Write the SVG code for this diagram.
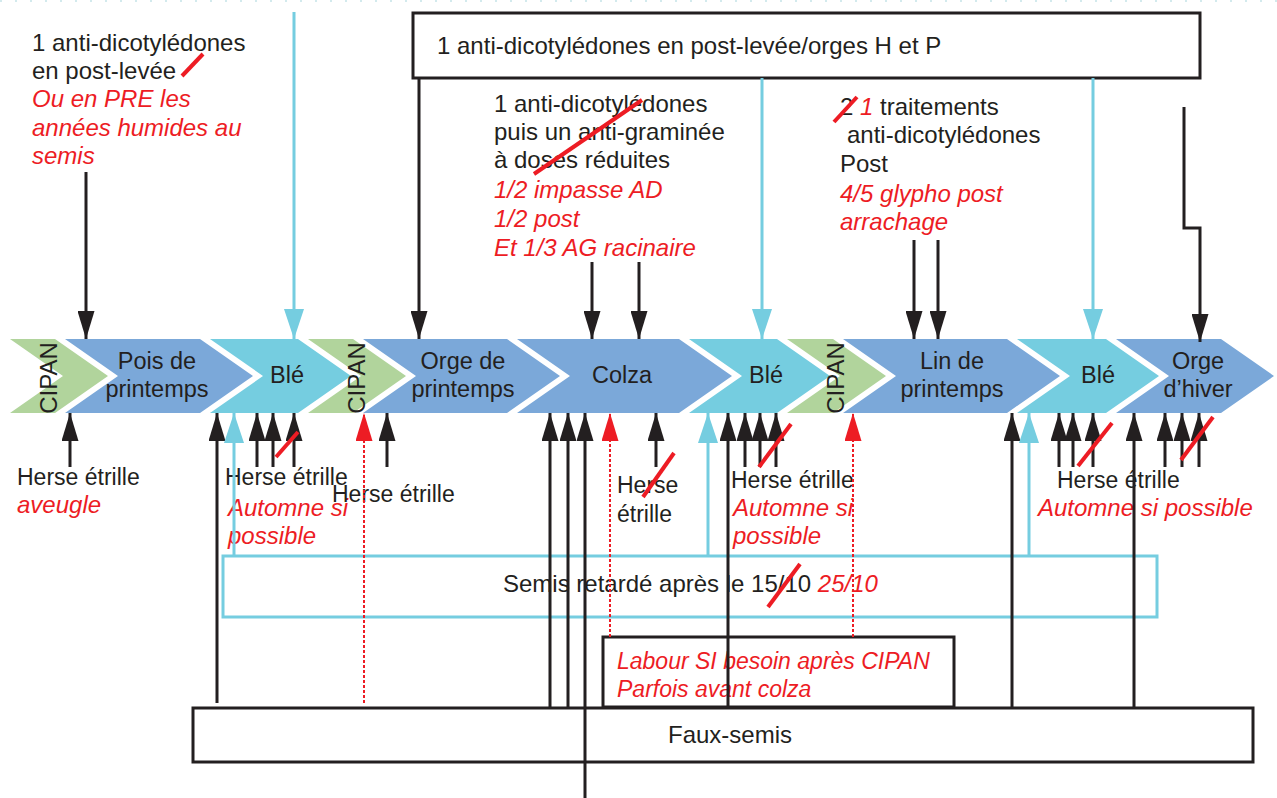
<svg xmlns="http://www.w3.org/2000/svg" width="1277" height="798" viewBox="0 0 1277 798">
<defs>
<style>
text{font-family:"Liberation Sans",Arial,sans-serif;font-size:24px;fill:#231F20}
.r{fill:#ED1C24;font-style:italic}
.h{font-size:23px}
.lb{font-size:23px}
.lbl{font-size:23.5px;text-anchor:middle}
.cip{font-size:24px;text-anchor:middle}
.blue{fill:#7BA8D9}
.cyan{fill:#75CDE0}
.green{fill:#B1D49C}
.box{fill:none;stroke:#231F20;stroke-width:3}
.cbox{fill:none;stroke:#75CDE0;stroke-width:3}
.k{stroke:#231F20;stroke-width:3;fill:none;marker-end:url(#ak)}
.c{stroke:#75CDE0;stroke-width:3;fill:none;marker-end:url(#ac)}
.d{stroke:#ED1C24;stroke-width:2;stroke-dasharray:3 2;fill:none;marker-end:url(#ar)}
.x{stroke:#ED1C24;stroke-width:4;fill:none}
</style>
<marker id="ak" viewBox="0 0 28 17" refX="28" refY="8.5" markerWidth="28" markerHeight="17" orient="auto" markerUnits="userSpaceOnUse"><path d="M0,0L28,8.5L0,17z" fill="#231F20"/></marker>
<marker id="ac" viewBox="0 0 30 20" refX="30" refY="10" markerWidth="30" markerHeight="20" orient="auto" markerUnits="userSpaceOnUse"><path d="M0,0L30,10L0,20z" fill="#75CDE0"/></marker>
<marker id="ar" viewBox="0 0 28 17" refX="28" refY="8.5" markerWidth="28" markerHeight="17" orient="auto" markerUnits="userSpaceOnUse"><path d="M0,0L28,8.5L0,17z" fill="#ED1C24"/></marker>
</defs>
<rect width="1277" height="798" fill="#fff"/>
<line x1="0" y1="1" x2="1277" y2="1" stroke="#c5e3e8" stroke-width="1.5" stroke-dasharray="2 13"/>

<g id="chevrons">
<g id="cipan1"><polygon class="green" points="10,339 55,339 108,376 55,413 10,413 63,376"/><text class="cip" transform="translate(57,378) rotate(-90)">CIPAN</text></g>
<g id="pois"><polygon class="blue" points="65,339 200,339 253,376 200,413 65,413 118,376"/><text class="lbl" x="157" y="369">Pois de</text><text class="lbl" x="157" y="397">printemps</text></g>
<g id="ble1"><polygon class="cyan" points="210,339 298,339 351,376 298,413 210,413 263,376"/><text class="lbl" x="287" y="383">Blé</text></g>
<g id="cipan2"><polygon class="green" points="308,339 353,339 406,376 353,413 308,413 361,376"/><text class="cip" transform="translate(365,378) rotate(-90)">CIPAN</text></g>
<g id="orgep"><polygon class="blue" points="363,339 507,339 560,376 507,413 363,413 416,376"/><text class="lbl" x="463" y="369">Orge de</text><text class="lbl" x="463" y="397">printemps</text></g>
<g id="colza"><polygon class="blue" points="517,339 679,339 732,376 679,413 517,413 570,376"/><text class="lbl" x="622" y="383">Colza</text></g>
<g id="ble2"><polygon class="cyan" points="689,339 777,339 830,376 777,413 689,413 742,376"/><text class="lbl" x="766" y="383">Blé</text></g>
<g id="cipan3"><polygon class="green" points="787,339 833,339 886,376 833,413 787,413 840,376"/><text class="cip" transform="translate(844,378) rotate(-90)">CIPAN</text></g>
<g id="lin"><polygon class="blue" points="843,339 1007,339 1060,376 1007,413 843,413 896,376"/><text class="lbl" x="952" y="369">Lin de</text><text class="lbl" x="952" y="397">printemps</text></g>
<g id="ble3"><polygon class="cyan" points="1017,339 1106,339 1159,376 1106,413 1017,413 1070,376"/><text class="lbl" x="1098" y="383">Blé</text></g>
<g id="orgeh"><polygon class="blue" points="1116,339 1221,339 1274,376 1221,413 1116,413 1169,376"/><text class="lbl" x="1198" y="369">Orge</text><text class="lbl" x="1198" y="397">d’hiver</text></g>
</g>

<g id="note-pois">
<text x="32" y="51">1 anti-dicotylédones</text>
<text x="32" y="79">en post-levée</text>
<line class="x" x1="182" y1="76" x2="203" y2="54"/>
<text class="r" x="32" y="107">Ou en PRE les</text>
<text class="r" x="32" y="136">années humides au</text>
<text class="r" x="32" y="164">semis</text>
</g>

<g id="box-orges">
<rect class="box" x="413" y="13" width="787" height="65"/>
<text x="437" y="54">1 anti-dicotylédones en post-levée/orges H et P</text>
</g>

<g id="note-colza">
<text x="494" y="112">1 anti-dicotylédones</text>
<text x="494" y="140">puis un anti-graminée</text>
<text x="494" y="168">à doses réduites</text>
<line class="x" x1="534" y1="174" x2="642" y2="100"/>
<text class="r" x="494" y="198">1/2 impasse AD</text>
<text class="r" x="494" y="227">1/2 post</text>
<text class="r" x="494" y="256">Et 1/3 AG racinaire</text>
</g>

<g id="note-lin">
<text x="840" y="115">2 <tspan class="r">1</tspan> traitements</text>
<line class="x" x1="834" y1="122" x2="857" y2="97"/>
<text x="847" y="143">anti-dicotylédones</text>
<text x="840" y="172">Post</text>
<text class="r" x="840" y="202">4/5 glypho post</text>
<text class="r" x="840" y="230">arrachage</text>
</g>

<g id="labels-bottom">
<text class="h" x="17" y="485">Herse étrille</text>
<text class="r" x="17" y="513">aveugle</text>
<text class="h" x="225" y="485">Herse étrille</text>
<text class="r" x="228" y="516">Automne si</text>
<text class="r" x="228" y="544">possible</text>
<text class="h" x="332" y="502">Herse étrille</text>
<text class="h" x="617" y="493">Herse</text>
<text class="h" x="617" y="522">étrille</text>
<text class="h" x="731" y="488">Herse étrille</text>
<text class="r" x="733" y="516">Automne si</text>
<text class="r" x="733" y="544">possible</text>
<text class="h" x="1057" y="488">Herse étrille</text>
<text class="r" x="1038" y="516">Automne si possible</text>
</g>

<g id="box-semis">
<rect class="cbox" x="223" y="556" width="934" height="61"/>
<text x="503" y="592">Semis retardé après le 15/10 <tspan class="r">25/10</tspan></text>
<line class="x" x1="768" y1="607" x2="800" y2="564"/>
</g>

<g id="box-labour">
<rect class="box" x="603" y="637" width="351" height="70"/>
<text class="r lb" x="617" y="669">Labour SI besoin après CIPAN</text>
<text class="r lb" x="617" y="697">Parfois avant colza</text>
</g>

<g id="box-faux">
<rect class="box" x="193" y="708" width="1060" height="54"/>
<text x="730" y="743" text-anchor="middle">Faux-semis</text>
</g>

<g id="connectors">
<line class="k" x1="86" y1="172" x2="86" y2="339"/>
<line class="c" x1="294" y1="12" x2="294" y2="339"/>
<line class="k" x1="419" y1="78" x2="419" y2="339"/>
<line class="k" x1="592" y1="262" x2="592" y2="339"/>
<line class="k" x1="639" y1="262" x2="639" y2="339"/>
<line class="c" x1="762" y1="78" x2="762" y2="339"/>
<line class="k" x1="914" y1="240" x2="914" y2="339"/>
<line class="k" x1="938" y1="240" x2="938" y2="339"/>
<line class="c" x1="1093" y1="78" x2="1093" y2="339"/>
<polyline class="k" points="1184,107 1184,228 1200,228 1200,342"/>

<line class="k" x1="70" y1="467" x2="70" y2="413"/>
<line class="k" x1="217" y1="703" x2="217" y2="413"/>
<line class="c" x1="234" y1="556" x2="234" y2="413"/>
<line class="k" x1="257" y1="467" x2="257" y2="413"/>
<line class="k" x1="273" y1="467" x2="273" y2="413"/>
<line class="k" x1="294" y1="467" x2="294" y2="413"/>
<line class="d" x1="364" y1="703" x2="364" y2="413"/>
<line class="k" x1="387" y1="467" x2="387" y2="413"/>
<line class="k" x1="550" y1="708" x2="550" y2="413"/>
<line class="k" x1="568" y1="708" x2="568" y2="413"/>
<line class="k" x1="585" y1="798" x2="585" y2="413"/>
<line class="d" x1="610" y1="637" x2="610" y2="413"/>
<line class="k" x1="656" y1="467" x2="656" y2="413"/>
<line class="c" x1="708" y1="556" x2="708" y2="413"/>
<line class="k" x1="728" y1="708" x2="728" y2="413"/>
<line class="k" x1="745" y1="467" x2="745" y2="413"/>
<line class="k" x1="760" y1="467" x2="760" y2="413"/>
<line class="k" x1="776" y1="467" x2="776" y2="413"/>
<line class="d" x1="853" y1="637" x2="853" y2="413"/>
<line class="k" x1="1012" y1="708" x2="1012" y2="413"/>
<line class="c" x1="1029" y1="556" x2="1029" y2="413"/>
<line class="k" x1="1059" y1="467" x2="1059" y2="413"/>
<line class="k" x1="1073" y1="467" x2="1073" y2="413"/>
<line class="k" x1="1093" y1="467" x2="1093" y2="413"/>
<line class="k" x1="1134" y1="708" x2="1134" y2="413"/>
<line class="k" x1="1165" y1="467" x2="1165" y2="413"/>
<line class="k" x1="1182" y1="467" x2="1182" y2="413"/>
<line class="k" x1="1199" y1="467" x2="1199" y2="413"/>

<line class="x" x1="276" y1="457" x2="298" y2="432"/>
<line class="x" x1="643" y1="497" x2="674" y2="453"/>
<line class="x" x1="759" y1="467" x2="791" y2="424"/>
<line class="x" x1="1078" y1="466" x2="1112" y2="423"/>
<line class="x" x1="1181" y1="460" x2="1213" y2="417"/>
</g>
</svg>
